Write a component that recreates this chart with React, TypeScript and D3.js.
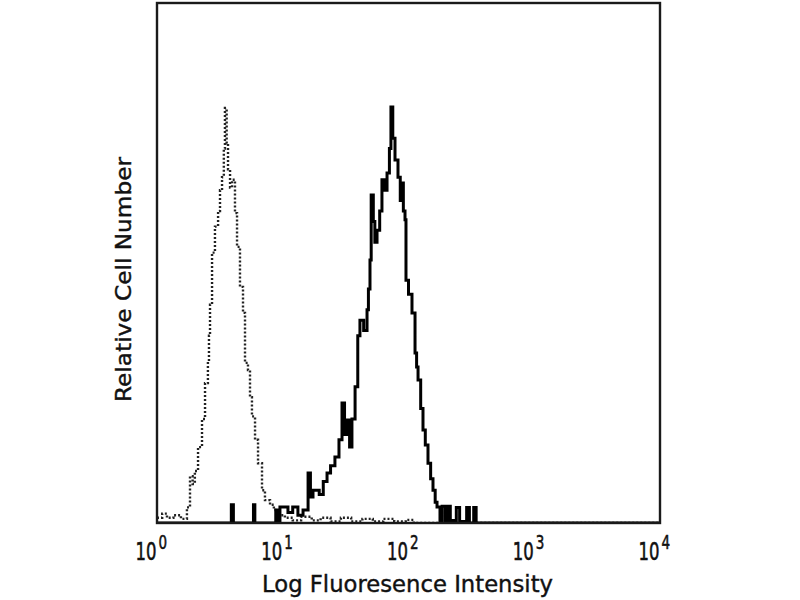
import React from "react";
import * as d3 from "d3";

// Isotype control (dotted) histogram: left bin edges (fluorescence) and counts
const isoX = [1.0, 1.1, 1.2, 1.35, 1.55, 1.73, 1.83, 1.92, 2.0, 2.12, 2.28, 2.41, 2.54, 2.59, 2.64, 2.74, 2.89, 3.06, 3.17, 3.29, 3.4, 3.47, 3.58, 3.67, 3.81, 3.95, 4.17, 4.33, 4.57, 4.83, 5.01, 5.29, 5.49, 5.69, 6.02, 6.36, 6.84, 7.22, 7.92, 8.5, 9.0, 10.4, 12, 14, 17, 20, 24, 29, 35, 43, 52, 63, 77, 95, 110, 10000];
const isoY = [1.0, 1.8, 1.0, 1.5, 0.8, 3.0, 9.0, 7.5, 10.0, 14.6, 20.0, 26.9, 31.0, 36.0, 42.0, 52.0, 57.0, 60.0, 64.0, 66.5, 72.0, 79.8, 73.0, 68.0, 64.5, 66.0, 59.6, 53.1, 45.4, 40.4, 30.8, 29.4, 24.2, 20.5, 16.0, 11.5, 6.3, 4.4, 3.5, 2.5, 1.5, 1.0, 0.5, 1.2, 0.5, 1.0, 0.3, 1.0, 0.3, 0.8, 0.3, 0.8, 0.3, 0.6, 0, 0];

// Stained sample (solid) histogram
const stainX = [1, 3.9, 4.05, 5.85, 6.0, 8.8, 9.1, 9.5, 11.0, 12.0, 13.2, 14.5, 15.9, 16.6, 17.4, 19.5, 21.0, 22.5, 24.0, 26.0, 28.0, 29.6, 31.0, 32.4, 34.0, 35.5, 37.6, 39.5, 41.1, 44.0, 46.8, 48.0, 49.4, 50.5, 52.5, 54.0, 56.2, 59.0, 61.5, 64.0, 67.5, 70.5, 72.5, 75.0, 78.1, 82.5, 86.0, 88.8, 91.0, 93.8, 95.5, 100.0, 106.6, 112.7, 116.0, 119.1, 125.0, 130.4, 136.0, 142.9, 150.0, 156.6, 163.0, 168.6, 178, 185, 196, 205, 215, 240, 255, 290, 305, 330, 345, 10000];
const stainY = [0, 3.5, 0, 3.5, 0, 2.5, 0.5, 3.1, 2.0, 3.1, 1.5, 2.5, 9.6, 5.0, 6.3, 5.5, 8.0, 9.6, 11.0, 12.7, 16.0, 23.1, 17.0, 19.8, 14.6, 20.0, 26.2, 36.0, 39.0, 37.0, 41.0, 45.0, 50.6, 63.1, 58.0, 54.0, 56.3, 60.0, 66.0, 64.0, 67.3, 72.0, 80.0, 74.0, 69.8, 66.5, 62.0, 65.4, 60.0, 58.3, 46.7, 44.0, 40.4, 32.7, 30.0, 27.5, 22.0, 17.9, 15.0, 11.5, 8.5, 6.3, 4.0, 3.1, 0.5, 3.2, 0.5, 3.2, 0.5, 3.0, 0.3, 3.0, 0, 3.0, 0, 0];

const tickExps = [0, 1, 2, 3, 4];
const xTitle = "Log Fluoresence Intensity";
const yTitle = "Relative Cell Number";

const L = 157, R = 660, T = 3, B = 523;

export default function App() {
  const x = d3.scaleLog().domain([1, 10000]).range([L, R]);
  const y = d3.scaleLinear().domain([0, 100]).range([B, T]);
  const line = d3
    .line<[number, number]>()
    .x((d) => x(d[0]))
    .y((d) => y(d[1]))
    .curve(d3.curveStepAfter);
  const iso = line(isoX.map((v, i) => [v, isoY[i]]) as [number, number][]) || "";
  const stain = line(stainX.map((v, i) => [v, stainY[i]]) as [number, number][]) || "";
  const font = "'DejaVu Sans', Verdana, sans-serif";

  return (
    <svg width={800} height={600} style={{ position: "absolute", left: 0, top: 0, background: "#fff" }}>
      <defs>
        <clipPath id="plotClip">
          <rect x={L} y={T} width={R - L} height={B - T} />
        </clipPath>
      </defs>
      <rect x={0} y={0} width={800} height={600} fill="#fff" />
      <g clipPath="url(#plotClip)">
        <path d={iso} fill="none" stroke="#222" strokeWidth={2.4} strokeDasharray="2,2" />
        <path d={stain} fill="none" stroke="#000" strokeWidth={3} strokeLinejoin="miter" />
      </g>
      <rect x={L} y={T} width={R - L} height={B - T} fill="none" stroke="#1a1a1a" strokeWidth={2.4} />
      {tickExps.map((e) => {
        const tx = x(Math.pow(10, e));
        return (
          <g
            key={e}
            transform={`translate(${tx}, 560) scale(1, 1.45)`}
            fontFamily={font}
            fill="#111"
            stroke="#111"
            strokeWidth={0.4}
          >
            <text x={-0.5} y={0} fontSize={16.5} textAnchor="end">10</text>
            <text x={1.5} y={-7.6} fontSize={13.5} textAnchor="start">{String(e)}</text>
          </g>
        );
      })}
      <text x={262} y={592} fontFamily={font} fontSize={23} fill="#111" stroke="#111" strokeWidth={0.4} textLength={291} lengthAdjust="spacingAndGlyphs">
        {xTitle}
      </text>
      <text
        transform={`translate(131, ${280 + 122}) rotate(-90)`}
        x={0}
        y={0}
        fontFamily={font}
        fontSize={22}
        fill="#111"
        stroke="#111"
        strokeWidth={0.4}
        textLength={245}
        lengthAdjust="spacingAndGlyphs"
      >
        {yTitle}
      </text>
    </svg>
  );
}
